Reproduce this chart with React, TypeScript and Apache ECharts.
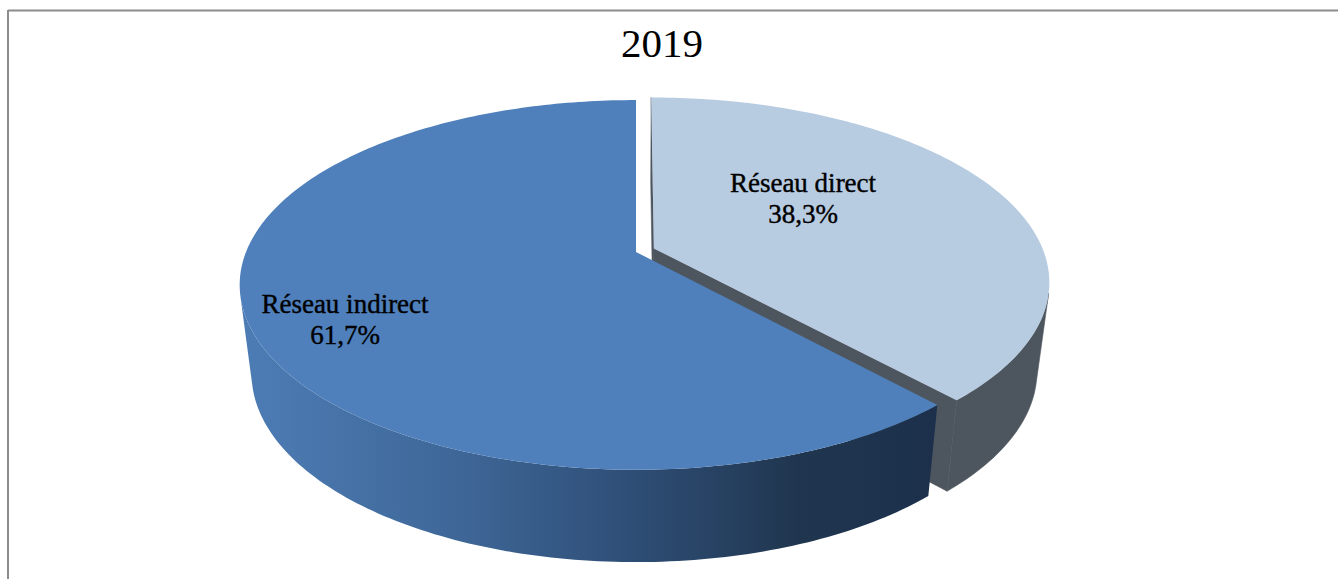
import React, { useEffect, useRef } from "react";
import * as echarts from "echarts";

const chartTitle = "2019";
const categories = ["Réseau direct", "Réseau indirect"];
const shares = [38.3, 61.7];
const shareLabels = ["38,3%", "61,7%"];

// Layout of the drawn 3D pie (perspective of a unit disc onto the page)
const W = 1338;
const H = 579;
const CX = 636;
const TOP_APEX_Y = 252;
const BOTTOM_APEX_Y = 340;
const K = -0.178;
const A = 179;
const C = 390;
const BOTTOM_SX = 0.97;
const BOTTOM_SY = 1.02;
const explode = [
  { du: 0.046, dv: -0.02 },
  { du: 0, dv: 0 },
];
const labelPos = [
  [803, 198],
  [345, 319],
];
const FONT_FAMILY = "'Liberation Serif', serif";
const topColors = ["#b8cce1", "#4f80bc"];
const GRAY_WALL = "#4d565f";
const wallColors: any[] = [
  GRAY_WALL,
  new echarts.graphic.LinearGradient(0, 0, 1, 0, [
    { offset: 0, color: "#4d7cb5" },
    { offset: 0.3, color: "#3f6899" },
    { offset: 0.55, color: "#2f4f78" },
    { offset: 0.8, color: "#20364f" },
    { offset: 1, color: "#1c304b" },
  ]),
];

type P = [number, number];

function project(u: number, v: number, bottom: boolean): P {
  const d = 1 + K * v;
  const x = (C * u) / d;
  const y = (A * v) / d;
  return bottom
    ? [CX + x * BOTTOM_SX, BOTTOM_APEX_Y + y * BOTTOM_SY]
    : [CX + x, TOP_APEX_Y + y];
}

function rimPoint(deg: number, i: number, bottom: boolean): P {
  const r = (deg * Math.PI) / 180;
  return project(Math.sin(r) + explode[i].du, -Math.cos(r) + explode[i].dv, bottom);
}

function signedArea(pts: P[]) {
  let s = 0;
  for (let i = 0; i < pts.length; i++) {
    const a = pts[i];
    const b = pts[(i + 1) % pts.length];
    s += a[0] * b[1] - b[0] * a[1];
  }
  return s;
}

function renderSlice(params: any, api: any) {
  const i = params.dataIndex;
  const total = shares.reduce((a, b) => a + b, 0);
  const before = shares.slice(0, i).reduce((a, b) => a + b, 0);
  const start = (before / total) * 360;
  const end = ((before + api.value(1)) / total) * 360;
  const degs: number[] = [];
  const n = Math.ceil(end - start);
  for (let s = 0; s <= n; s++) degs.push(start + ((end - start) * s) / n);

  const apexTop = project(explode[i].du, explode[i].dv, false);
  const apexBottom = project(explode[i].du, explode[i].dv, true);

  // outward wall: only the steps that face the viewer
  const frontSet = new Set<number>();
  for (let s = 0; s < degs.length - 1; s++) {
    const q: P[] = [
      rimPoint(degs[s], i, false),
      rimPoint(degs[s + 1], i, false),
      rimPoint(degs[s + 1], i, true),
      rimPoint(degs[s], i, true),
    ];
    if (signedArea(q) < 0) {
      frontSet.add(degs[s]);
      frontSet.add(degs[s + 1]);
    }
  }
  const front = Array.from(frontSet).sort((a, b) => a - b);
  const wallPts: P[] = [
    ...front.map((d) => rimPoint(d, i, false)),
    ...front.slice().reverse().map((d) => rimPoint(d, i, true)),
  ];

  const children: any[] = [];
  if (i === 0) {
    // cut faces of the pulled-out slice
    [start, end].forEach((d) => {
      children.push({
        type: "polygon",
        shape: {
          points: [apexTop, rimPoint(d, i, false), rimPoint(d, i, true), apexBottom],
        },
        style: { fill: GRAY_WALL, stroke: GRAY_WALL, lineWidth: 0.6 },
      });
    });
  }
  children.push({
    type: "polygon",
    shape: { points: wallPts },
    style:
      i === 0
        ? { fill: GRAY_WALL, stroke: GRAY_WALL, lineWidth: 0.6 }
        : { fill: wallColors[i] },
  });
  children.push({
    type: "polygon",
    shape: { points: [apexTop, ...degs.map((d) => rimPoint(d, i, false))] },
    style: { fill: topColors[i] },
  });
  children.push({
    type: "text",
    z2: 10,
    style: {
      text: `${categories[i]}\n${shareLabels[i]}`,
      x: labelPos[i][0],
      y: labelPos[i][1],
      align: "center",
      verticalAlign: "middle",
      fill: "#000",
      stroke: "#000",
      lineWidth: 0.4,
      font: `27px ${FONT_FAMILY}`,
      lineHeight: 31,
    },
  });
  return { type: "group", children };
}

export default function App() {
  const ref = useRef<HTMLDivElement>(null);
  useEffect(() => {
    document.body.style.margin = "0";
    const chart = echarts.init(ref.current!, null, { renderer: "svg" });
    chart.setOption({
      animation: false,
      backgroundColor: "#fff",
      title: {
        text: chartTitle,
        left: 621,
        top: 22,
        padding: 0,
        textStyle: {
          fontFamily: FONT_FAMILY,
          fontSize: 41,
          fontWeight: "normal",
          color: "#000",
        },
      },
      graphic: [
        {
          type: "line",
          shape: { x1: 8, y1: 10.5, x2: W, y2: 10.5 },
          style: { stroke: "#8c8c8c", lineWidth: 2 },
        },
        {
          type: "line",
          shape: { x1: 8, y1: 10, x2: 8, y2: H },
          style: { stroke: "#8c8c8c", lineWidth: 2 },
        },
      ],
      series: [
        {
          type: "custom",
          coordinateSystem: "none",
          silent: true,
          renderItem: renderSlice,
          data: categories.map((c, i) => ({ name: c, value: [i, shares[i]] })),
        },
      ],
    });
    return () => chart.dispose();
  }, []);
  return <div ref={ref} style={{ position: "absolute", left: 0, top: 0, width: W, height: H }} />;
}
